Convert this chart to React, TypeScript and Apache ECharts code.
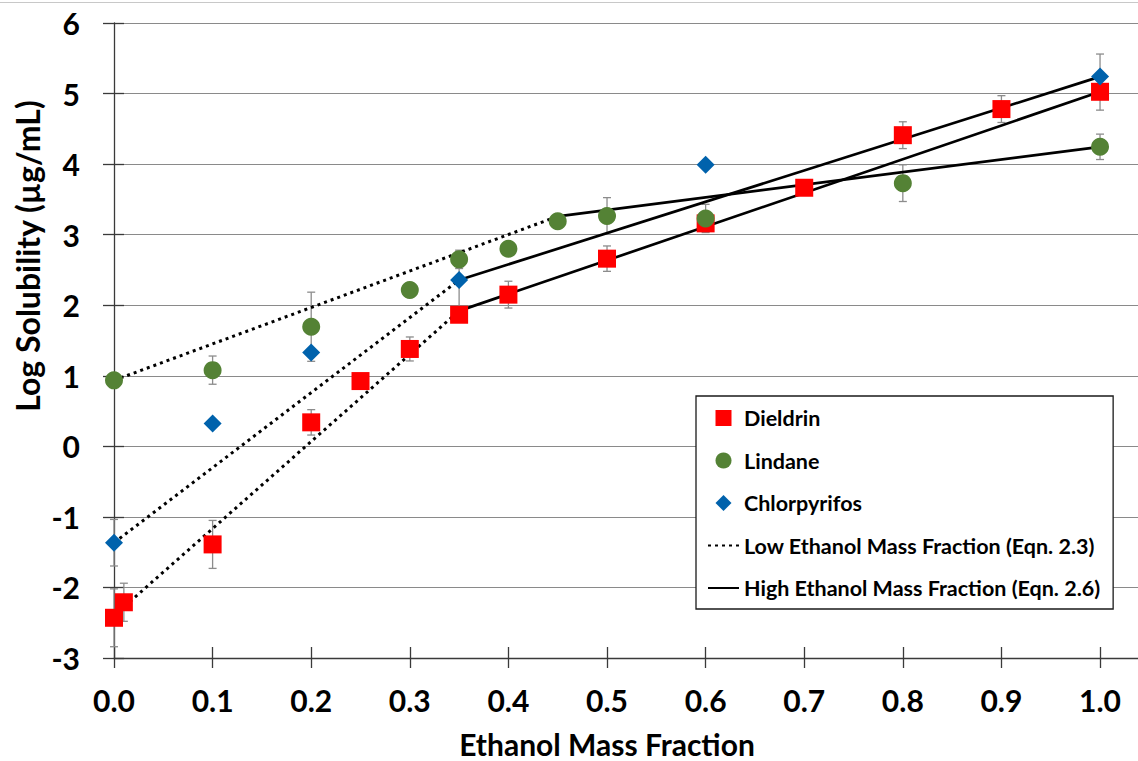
import React, { useEffect, useRef } from "react";
import * as echarts from "echarts";

// Axis ticks
const X_TICKS = [0, 0.1, 0.2, 0.3, 0.4, 0.5, 0.6, 0.7, 0.8, 0.9, 1.0];
const X_MIN = 0;
const X_MAX = 1.0385;
const Y_MIN = -3;
const Y_MAX = 6;

// Dieldrin: ethanol mass fraction, log solubility, error (±)
const dieldrinX = [0, 0.01, 0.1, 0.2, 0.25, 0.3, 0.35, 0.4, 0.5, 0.6, 0.7, 0.8, 0.9, 1.0];
const dieldrinY = [-2.43, -2.21, -1.39, 0.34, 0.925, 1.38, 1.865, 2.15, 2.66, 3.16, 3.665, 4.41, 4.78, 5.025];
const dieldrinErr = [0.41, 0.27, 0.34, 0.18, 0, 0.17, 0, 0.19, 0.18, 0, 0, 0.19, 0.19, 0.26];

// Lindane
const lindaneX = [0, 0.1, 0.2, 0.3, 0.35, 0.4, 0.45, 0.5, 0.6, 0.8, 1.0];
const lindaneY = [0.935, 1.08, 1.695, 2.215, 2.65, 2.8, 3.19, 3.265, 3.23, 3.73, 4.245];
const lindaneErr = [0, 0.2, 0.49, 0, 0.13, 0, 0, 0.26, 0.2, 0.26, 0.18];

// Chlorpyrifos
const chlorX = [0, 0.1, 0.2, 0.35, 0.6, 1.0];
const chlorY = [-1.366, 0.325, 1.33, 2.357, 3.99, 5.24];
const chlorErr = [0.33, 0, 0, 0.4, 0, 0.32];

// Model lines: [x, y] end points
const dieldrinLow = [[0, -2.4], [0.35, 1.92]];
const dieldrinHigh = [[0.35, 1.92], [1.0, 5.025]];
const chlorLow = [[0, -1.366], [0.35, 2.357]];
const chlorHigh = [[0.35, 2.357], [1.0, 5.24]];
const lindaneLow = [[0, 0.935], [0.45, 3.26]];
const lindaneHigh = [[0.45, 3.26], [1.0, 4.245]];

const LOW_NAME = "Low Ethanol Mass Fraction (Eqn. 2.3)";
const HIGH_NAME = "High Ethanol Mass Fraction (Eqn. 2.6)";

const FONT = "Lato";
const AXIS_COLOR = "#3a3a3a";

const zip = (xs: number[], ys: number[]) => xs.map((x, i) => [x, ys[i]]);
const zip3 = (xs: number[], ys: number[], es: number[]) => xs.map((x, i) => [x, ys[i], es[i]]);

export default function App() {
  const ref = useRef<HTMLDivElement | null>(null);

  useEffect(() => {
    if (!ref.current) return;
    const chart = echarts.init(ref.current, undefined, { renderer: "svg" });

    const errorData = [
      ...zip3(dieldrinX, dieldrinY, dieldrinErr),
      ...zip3(lindaneX, lindaneY, lindaneErr),
      ...zip3(chlorX, chlorY, chlorErr),
    ];

    const lowStyle = { color: "#000", width: 3, type: [3, 4] as number[], cap: "butt" as const };
    const highStyle = { color: "#000", width: 2.7, type: "solid" as const };

    const lineSeries = (name: string, data: number[][], style: any) => ({
      type: "line",
      name,
      data,
      symbol: "none",
      showSymbol: false,
      lineStyle: style,
      itemStyle: { color: "#000" },
      z: 2,
      silent: true,
    });

    const scatterSeries = (name: string, data: number[][], symbol: string, color: string) => ({
      type: "scatter",
      name,
      data,
      symbol,
      symbolSize: 18,
      itemStyle: { color, opacity: 1 },
      z: 3,
      silent: true,
    });

    const gridBox = { left: 114, right: 0, top: 23, bottom: 103, outerBoundsMode: "none" };

    const option: any = {
      animation: false,
      backgroundColor: "#ffffff",
      grid: [gridBox, { ...gridBox }],
      xAxis: [
        {
          type: "value",
          gridIndex: 0,
          min: X_MIN,
          max: X_MAX,
          interval: 0.1,
          axisLine: { show: true, onZero: false, lineStyle: { color: AXIS_COLOR, width: 1.3 } },
          axisTick: { show: true, inside: false, length: 10, customValues: X_TICKS, lineStyle: { color: AXIS_COLOR, width: 1.3 } },
          axisLabel: {
            show: true,
            customValues: X_TICKS,
            margin: 27,
            formatter: (v: number) => v.toFixed(1),
            fontFamily: FONT,
            fontWeight: "bold",
            fontSize: 30,
            color: "#000",
          },
          splitLine: { show: false },
          name: "Ethanol Mass Fraction",
          nameLocation: "middle",
          nameGap: 72,
          nameTextStyle: {
            fontFamily: FONT,
            fontWeight: "bold",
            fontSize: 30,
            lineHeight: 28,
            color: "#000",
            padding: [0, 38, 0, 0],
          },
        },
        {
          type: "value",
          gridIndex: 1,
          min: X_MIN,
          max: X_MAX,
          interval: 0.1,
          axisLine: { show: false, onZero: false },
          axisTick: { show: true, inside: true, length: 11, customValues: X_TICKS, lineStyle: { color: AXIS_COLOR, width: 1.3 } },
          axisLabel: { show: false },
          splitLine: { show: false },
        },
      ],
      yAxis: [
        {
          type: "value",
          gridIndex: 0,
          min: Y_MIN,
          max: Y_MAX,
          interval: 1,
          axisLine: { show: true, onZero: false, lineStyle: { color: AXIS_COLOR, width: 1.3 } },
          axisTick: { show: true, inside: false, length: 11, lineStyle: { color: AXIS_COLOR, width: 1.3 } },
          axisLabel: {
            margin: 34,
            fontFamily: FONT,
            fontWeight: "bold",
            fontSize: 30,
            color: "#000",
          },
          splitLine: { show: true, lineStyle: { color: "#8a8a8a", width: 1 } },
        },
        {
          type: "value",
          gridIndex: 1,
          min: Y_MIN,
          max: Y_MAX,
          interval: 1,
          axisLine: { show: false, onZero: false },
          axisTick: { show: true, inside: true, length: 10, lineStyle: { color: AXIS_COLOR, width: 1.3 } },
          axisLabel: { show: false },
          splitLine: { show: false },
        },
      ],
      legend: {
        data: [
          { name: "Dieldrin", icon: "path://M0,0H10V10H0Z" },
          { name: "Lindane", icon: "circle" },
          { name: "Chlorpyrifos", icon: "path://M5,0L10,5L5,10L0,5Z" },
          { name: LOW_NAME, itemStyle: { opacity: 0 } },
          { name: HIGH_NAME, itemStyle: { opacity: 0 } },
        ],
        orient: "vertical",
        left: 696,
        top: 396,
        itemWidth: 31,
        itemHeight: 16,
        itemGap: 18.5,
        padding: [10, 13, 9, 11],
        backgroundColor: "#ffffff",
        borderColor: "#1a1a1a",
        borderWidth: 1.3,
        selectedMode: false,
        textStyle: {
          fontFamily: FONT,
          fontWeight: "bold",
          fontSize: 21.5,
          lineHeight: 24,
          width: 352,
          color: "#000",
        },
      },
      graphic: [
        {
          type: "line",
          shape: { x1: 0, y1: 2.5, x2: 1138, y2: 2.5 },
          style: { stroke: "#c8c8c8", lineWidth: 1 },
          silent: true,
        },
        {
          type: "text",
          x: 27,
          y: 256,
          rotation: Math.PI / 2,
          style: {
            text: "Log Solubility (µg/mL)",
            fill: "#000",
            font: `bold 32px ${FONT}`,
            align: "center",
            verticalAlign: "middle",
            textAlign: "center",
            textVerticalAlign: "middle",
          },
          silent: true,
        },
      ],
      series: [
        {
          type: "custom",
          name: "error",
          xAxisIndex: 0,
          yAxisIndex: 0,
          data: errorData,
          encode: { x: 0, y: 1 },
          z: 1,
          silent: true,
          renderItem: (_params: any, api: any) => {
            const x = api.value(0);
            const y = api.value(1);
            const e = api.value(2);
            if (!(e > 0)) return { type: "group", children: [] };
            const top = api.coord([x, y + e]);
            const bot = api.coord([x, y - e]);
            const hw = 4;
            const st = { stroke: "#8c8c8c", lineWidth: 1.3 };
            return {
              type: "group",
              children: [
                { type: "line", shape: { x1: top[0], y1: top[1], x2: bot[0], y2: bot[1] }, style: st },
                { type: "line", shape: { x1: top[0] - hw, y1: top[1], x2: top[0] + hw, y2: top[1] }, style: st },
                { type: "line", shape: { x1: bot[0] - hw, y1: bot[1], x2: bot[0] + hw, y2: bot[1] }, style: st },
              ],
            };
          },
        },
        lineSeries(LOW_NAME, dieldrinLow, lowStyle),
        lineSeries(LOW_NAME, chlorLow, lowStyle),
        lineSeries(LOW_NAME, lindaneLow, lowStyle),
        lineSeries(HIGH_NAME, dieldrinHigh, highStyle),
        lineSeries(HIGH_NAME, chlorHigh, highStyle),
        lineSeries(HIGH_NAME, lindaneHigh, highStyle),
        scatterSeries("Dieldrin", zip(dieldrinX, dieldrinY), "rect", "#ff0000"),
        scatterSeries("Lindane", zip(lindaneX, lindaneY), "circle", "#548235"),
        scatterSeries("Chlorpyrifos", zip(chlorX, chlorY), "diamond", "#0062ac"),
      ],
    };

    chart.setOption(option);
    return () => chart.dispose();
  }, []);

  return (
    <div
      ref={ref}
      style={{ position: "fixed", left: 0, top: 0, width: 1138, height: 761, background: "#fff" }}
    />
  );
}
